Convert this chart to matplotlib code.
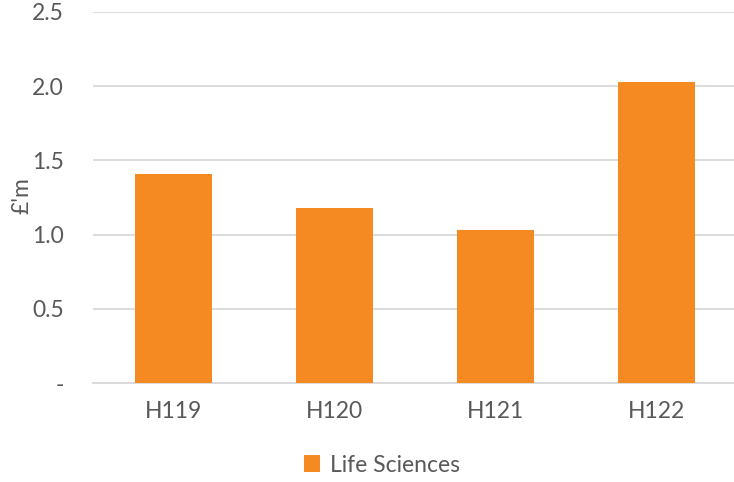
import matplotlib
matplotlib.use("Agg")
import matplotlib.pyplot as plt
from matplotlib.ticker import FixedLocator, FixedFormatter

categories = ["H119", "H120", "H121", "H122"]
life_sciences = [1.41, 1.18, 1.03, 2.03]
y_ticks = [0.0, 0.5, 1.0, 1.5, 2.0, 2.5]
y_tick_labels = ["-", "0.5", "1.0", "1.5", "2.0", "2.5"]

text_color = "#595959"
bar_color = "#F58A22"
grid_color = "#D9D9D9"

plt.rcParams["font.family"] = ["Lato", "DejaVu Sans"]

fig = plt.figure(figsize=(7.34, 4.82), dpi=100)
ax = fig.add_axes([93 / 734, 1 - 383 / 482, 644 / 734, 371 / 482])

x = range(len(categories))
ax.bar(x, life_sciences, width=0.475, color=bar_color, label="Life Sciences", zorder=3)

ax.set_xlim(-0.5, len(categories) - 0.5)
ax.set_ylim(0, 2.5)
ax.yaxis.set_major_locator(FixedLocator(y_ticks))
ax.yaxis.set_major_formatter(FixedFormatter(y_tick_labels))
ax.set_xticks(list(x))
ax.set_xticklabels(categories)

ax.grid(axis="y", color=grid_color, linewidth=1.3, zorder=0)
for side in ["top", "right", "left"]:
    ax.spines[side].set_visible(False)
ax.spines["bottom"].set_color(grid_color)
ax.spines["bottom"].set_linewidth(1.3)
ax.tick_params(axis="both", length=0, labelsize=16.5, labelcolor=text_color)
ax.tick_params(axis="y", pad=21)
ax.tick_params(axis="x", pad=13)

fig.text(22 / 734, 1 - 196 / 482, "£'m", rotation=90, ha="center", va="center",
         fontsize=16.5, color=text_color)

fig.legend(loc="center", bbox_to_anchor=(382 / 734, 1 - 465 / 482), frameon=False,
           fontsize=16.5, labelcolor=text_color, handlelength=0.7, handleheight=0.7,
           handletextpad=0.4)

fig.savefig("out.png", dpi=100)
